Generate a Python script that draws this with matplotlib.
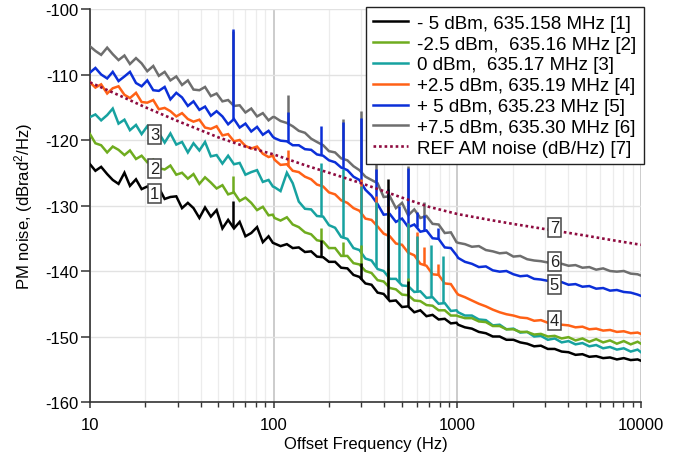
import numpy as np
import matplotlib
matplotlib.use("Agg")
import matplotlib.pyplot as plt

plt.rcParams["font.family"] = ["Liberation Sans", "DejaVu Sans"]
plt.rcParams["axes.unicode_minus"] = False
plt.rcParams["mathtext.default"] = "regular"

# ---- measured offset frequencies (Hz): three analyser spans ----
freq_hz = (
    [10.0, 10.7, 11.5, 12.4, 13.3, 14.3, 15.4, 16.5, 17.8, 19.1,
     20.5, 22.1, 23.7, 25.5, 27.4, 29.5, 31.7, 34.1, 36.6, 39.4,
     42.3, 45.5, 48.9, 52.6, 56.5, 60.8, 65.3, 70.2, 75.5, 81.2,
     87.3, 93.8, 99.0]
    + [101, 109, 118, 127, 137, 148, 160, 172, 186, 200,
       216, 233, 252, 272, 293, 316, 341, 368, 397, 429,
       463, 500, 540, 583, 629, 679, 733, 791, 854, 922, 990]
    + [1010, 1100, 1200, 1310, 1430, 1560, 1700, 1850, 2020, 2200,
       2400, 2620, 2850, 3110, 3390, 3700, 4030, 4400, 4800, 5230,
       5700, 6220, 6780, 7390, 8060, 8790, 9580, 10000]
)

# ---- PM noise (dBrad^2/Hz) for each drive level ----
pm_m5dbm = (
    [-123.7, -124.7, -124.1, -125.2, -126.1, -126.7, -125.0, -127.0, -126.0, -127.5,
     -127.1, -127.8, -127.3, -129.0, -128.7, -128.6, -130.4, -129.6, -130.4, -131.9,
     -130.3, -131.7, -130.7, -133.5, -132.2, -133.5, -132.5, -134.7, -134.2, -133.3,
     -135.6, -134.7, -135.7]
    + [-135.8, -136.2, -135.9, -136.5, -136.4, -137.1, -137.0, -137.8, -137.9, -138.6,
       -138.6, -139.5, -139.6, -140.6, -140.9, -141.9, -142.1, -143.3, -143.5, -144.6,
       -144.5, -145.5, -145.4, -146.3, -146.0, -146.9, -146.7, -147.4, -147.3, -148.0, -147.9]
    + [-148.2, -148.6, -148.8, -149.3, -149.5, -150.0, -150.0, -150.5, -150.5, -150.9,
       -151.1, -151.5, -151.4, -151.9, -151.9, -152.3, -152.4, -152.8, -152.7, -153.1,
       -153.0, -153.3, -153.2, -153.5, -153.3, -153.6, -153.5, -153.7]
)
pm_m2p5dbm = (
    [-119.1, -120.5, -120.8, -121.9, -121.0, -121.5, -122.3, -121.6, -122.9, -122.4,
     -123.4, -123.0, -124.3, -124.5, -123.9, -125.3, -125.0, -125.9, -125.2, -126.7,
     -125.7, -126.5, -127.4, -126.9, -128.3, -128.0, -129.3, -128.8, -129.6, -130.7,
     -130.2, -131.5, -131.4]
    + [-131.9, -132.3, -131.8, -132.9, -133.3, -134.1, -134.4, -135.3, -135.5, -136.5,
       -136.5, -137.7, -137.7, -138.8, -139.0, -140.0, -140.3, -141.4, -141.6, -142.6,
       -142.8, -143.6, -143.7, -144.5, -144.6, -145.2, -145.3, -146.0, -146.0, -146.8, -146.8]
    + [-146.9, -147.2, -147.2, -147.7, -147.8, -148.4, -148.4, -148.9, -148.9, -149.3,
       -149.3, -149.7, -149.6, -150.0, -149.9, -150.3, -150.1, -150.6, -150.3, -150.8,
       -150.4, -150.9, -150.6, -151.1, -150.7, -151.2, -150.8, -151.1]
)
pm_0dbm = (
    [-116.5, -116.1, -117.0, -116.2, -115.2, -117.5, -116.9, -118.5, -117.7, -119.1,
     -117.9, -119.4, -118.9, -120.4, -119.0, -120.7, -120.3, -121.9, -120.5, -121.6,
     -120.3, -122.5, -122.3, -123.6, -122.4, -123.7, -123.5, -125.3, -124.9, -124.6,
     -126.4, -126.1, -127.1]
    + [-127.2, -127.8, -125.0, -126.6, -129.4, -130.5, -130.6, -131.6, -131.7, -133.0,
       -133.4, -134.8, -135.1, -136.5, -136.8, -138.1, -138.4, -139.7, -140.0, -141.2,
       -141.2, -142.2, -142.3, -143.2, -143.1, -144.1, -144.0, -145.0, -144.9, -146.1, -146.0]
    + [-146.3, -146.8, -146.8, -147.4, -147.5, -148.3, -148.2, -148.9, -148.8, -149.4,
       -149.3, -150.0, -149.9, -150.5, -150.3, -150.9, -150.7, -151.2, -151.0, -151.5,
       -151.3, -151.8, -151.6, -152.0, -151.8, -152.3, -152.0, -152.4]
)
pm_p2p5dbm = (
    [-111.2, -112.0, -111.5, -112.9, -112.1, -111.8, -113.1, -113.6, -112.8, -114.2,
     -114.3, -113.9, -115.3, -115.1, -115.6, -116.4, -115.9, -116.8, -117.2, -116.9,
     -118.1, -118.3, -117.9, -119.3, -119.1, -120.2, -120.0, -120.9, -121.3, -121.0,
     -122.1, -122.6, -122.4]
    + [-123.0, -123.8, -123.7, -124.7, -124.9, -125.6, -126.0, -126.8, -127.1, -128.0,
       -128.3, -129.2, -129.6, -130.4, -130.8, -132.0, -132.2, -133.2, -134.3, -134.7,
       -135.8, -136.0, -137.2, -137.6, -138.9, -139.2, -140.5, -140.6, -141.9, -142.0, -143.3]
    + [-143.6, -144.0, -144.5, -145.0, -145.4, -145.9, -146.3, -146.6, -146.8, -147.1,
       -147.2, -147.6, -147.5, -147.9, -148.0, -148.2, -148.3, -148.6, -148.5, -148.9,
       -148.8, -149.1, -149.0, -149.3, -149.2, -149.5, -149.4, -149.6]
)
pm_p5dbm = (
    [-109.7, -109.0, -110.0, -110.6, -109.6, -111.0, -110.3, -109.6, -111.3, -111.8,
     -110.9, -112.4, -112.5, -111.9, -113.8, -112.8, -113.5, -114.8, -114.1, -115.4,
     -114.9, -116.3, -115.6, -116.4, -117.6, -116.8, -118.1, -117.5, -118.7, -118.0,
     -119.2, -118.6, -119.5]
    + [-119.7, -120.1, -120.2, -120.8, -120.8, -121.4, -121.5, -122.2, -122.4, -123.1,
       -123.4, -124.2, -124.6, -125.6, -126.1, -127.6, -128.5, -129.8, -131.4, -131.3,
       -132.5, -132.0, -133.3, -132.9, -134.0, -133.8, -135.0, -135.1, -136.4, -136.5, -137.6]
    + [-138.0, -138.6, -138.9, -139.4, -139.3, -139.9, -140.1, -140.0, -140.5, -140.8,
       -140.7, -141.2, -141.3, -141.5, -141.8, -141.7, -142.1, -142.0, -142.4, -142.3,
       -142.7, -142.6, -143.0, -142.9, -143.2, -143.3, -143.6, -143.8]
)
pm_p7p5dbm = (
    [-105.7, -106.4, -107.0, -105.9, -106.9, -107.8, -107.1, -108.4, -107.5, -108.3,
     -109.5, -108.7, -110.2, -109.6, -110.9, -110.3, -111.6, -110.9, -112.3, -112.4,
     -111.9, -113.3, -112.9, -114.1, -113.9, -114.8, -114.7, -115.8, -115.2, -116.4,
     -115.9, -117.0, -116.5]
    + [-116.5, -117.1, -117.4, -117.9, -118.6, -118.9, -119.8, -120.3, -120.8, -121.7,
       -121.9, -122.8, -123.1, -124.0, -124.6, -125.6, -126.1, -126.6, -128.7, -128.6,
       -130.4, -129.6, -131.5, -130.6, -131.9, -131.6, -132.8, -132.9, -134.2, -134.1, -135.6]
    + [-135.7, -135.9, -136.3, -136.2, -136.8, -137.0, -137.3, -137.2, -137.8, -137.7,
       -138.2, -138.4, -138.5, -138.7, -138.8, -138.9, -139.2, -139.1, -139.5, -139.4,
       -139.8, -139.6, -140.0, -140.1, -140.0, -140.4, -140.5, -140.7]
)

# ---- reference AM noise (dB/Hz) ----
ref_freq_hz = [10, 15, 20, 30, 50, 70, 100, 150, 200, 300, 500, 700,
               1000, 1500, 2000, 3000, 5000, 7000, 10000]
ref_am_db = [-111.2, -113.4, -115.0, -117.1, -119.6, -121.0, -122.2, -123.9,
             -125.0, -126.6, -128.8, -130.2, -131.3, -132.2, -132.8, -133.6,
             -134.6, -135.3, -136.0]

# ---- mains-harmonic spurs: peak level per trace (nan = no spur) ----
nan = float("nan")
spur_hz = [60, 120, 180, 240, 300, 360, 420, 480, 540, 600, 660, 720, 780, 840]
spur_m5dbm = [-129.3, nan, -135.2, nan, -138.8, nan, -126.0, nan, -141.5, nan, nan, nan, nan, nan]
spur_m2p5dbm = [-125.5, nan, -133.5, -135.5, -136.0, nan, -139.5, nan, -141.0, nan, nan, nan, nan, nan]
spur_0dbm = [nan, nan, -123.5, -124.5, -127.0, -129.5, -131.0, -132.0, -132.6, -134.6, nan, -136.1, nan, -137.7]
spur_p2p5dbm = [nan, -121.5, -124.8, -126.0, -126.0, -128.5, -130.0, nan, -132.6, -134.0, -136.4, nan, -139.0, nan]
spur_p5dbm = [-103.0, -115.8, -117.8, -117.2, -116.6, -124.4, -127.5, -130.0, -124.2, -131.0, -131.5, nan, -133.5, nan]
spur_p7p5dbm = [-103.4, -113.1, nan, -116.8, -115.6, -122.8, nan, nan, -123.9, nan, -129.5, nan, nan, nan]

legend_labels = [
    "- 5 dBm, 635.158 MHz [1]",
    "-2.5 dBm,  635.16 MHz [2]",
    "0 dBm,  635.17 MHz [3]",
    "+2.5 dBm, 635.19 MHz [4]",
    "+ 5 dBm, 635.23 MHz [5]",
    "+7.5 dBm, 635.30 MHz [6]",
    "REF AM noise (dB/Hz) [7]",
]
trace_colors = ["#000000", "#6FAC1F", "#17A2A0", "#FF6116", "#0B2FD8", "#6E6E6E"]
ref_color = "#8E0B3F"

traces = [pm_m5dbm, pm_m2p5dbm, pm_0dbm, pm_p2p5dbm, pm_p5dbm, pm_p7p5dbm]
spurs = [spur_m5dbm, spur_m2p5dbm, spur_0dbm, spur_p2p5dbm, spur_p5dbm, spur_p7p5dbm]
zorders = [8, 7, 6, 5, 4, 3]

fig = plt.figure(figsize=(6.8, 4.6), dpi=100)
ax = fig.add_axes([90 / 680, 1 - 403 / 460, (641 - 90) / 680, (403 - 10) / 460])

lf = np.log10(freq_hz)
handles = []
for vals, sp, col, z in zip(traces, spurs, trace_colors, zorders):
    h, = ax.plot(freq_hz, vals, color=col, lw=1.8, zorder=z, solid_joinstyle="miter")
    for f, peak in zip(spur_hz, sp):
        if np.isnan(peak):
            continue
        base = np.interp(np.log10(f), lf, vals)
        ax.plot([f, f], [base, peak], color=col, lw=1.8, zorder=z,
                solid_capstyle="butt")
    handles.append(h)

href, = ax.plot(ref_freq_hz, ref_am_db, color=ref_color, lw=1.9,
                linestyle=(0, (1, 1.1)), zorder=10)
handles.append(href)

ax.set_xscale("log")
ax.set_xlim(10, 10000)
ax.set_ylim(-160, -100)
ax.set_xticks([10, 100, 1000, 10000])
ax.set_xticklabels(["10", "100", "1000", "10000"])
ax.set_yticks(np.arange(-160, -99, 10))
ax.set_yticklabels([str(v) for v in range(-160, -99, 10)])

ax.grid(True, which="major", axis="y", color="#e2e2e2", lw=1.0, zorder=0)
ax.grid(True, which="major", axis="x", color="#c8c8c8", lw=1.3, zorder=0)
ax.grid(True, which="minor", axis="x", color="#ececec", lw=0.9, zorder=0)
ax.set_axisbelow(True)

for s in ["top", "right"]:
    ax.spines[s].set_visible(False)
for s in ["left", "bottom"]:
    ax.spines[s].set_color("#333333")
    ax.spines[s].set_linewidth(1.2)

ax.tick_params(axis="y", which="major", direction="out", length=6.5, width=1.1,
               color="#333333", labelsize=12, pad=2)
ax.tick_params(axis="x", which="major", direction="out", length=4.5, width=1.1,
               color="#333333", labelsize=12, pad=6)
ax.tick_params(axis="x", which="minor", direction="out", length=3.5, width=1.0,
               color="#333333")

ax.set_xlabel("Offset Frequency (Hz)", fontsize=12, labelpad=3)
ax.set_ylabel("PM noise, (dBrad$^2$/Hz)", fontsize=12, labelpad=7)

leg = ax.legend(handles, legend_labels, loc="upper right",
                bbox_to_anchor=(644 / 680, 1 - 8 / 460),
                bbox_transform=fig.transFigure, fontsize=13.5,
                frameon=True, fancybox=False, framealpha=1,
                edgecolor="#222222", borderpad=0.4, labelspacing=0.2,
                handlelength=1.85, handletextpad=0.5, borderaxespad=0)
leg.get_frame().set_linewidth(1.0)
leg.set_zorder(20)

box = dict(boxstyle="square,pad=0.12", fc="white", ec="#444444", lw=1.1)
for txt, f, v in [("3", 22.5, -119.2), ("2", 22.5, -124.4), ("1", 22.5, -128.1),
                  ("7", 3380, -133.3), ("6", 3380, -138.6), ("5", 3380, -142.1),
                  ("4", 3380, -147.6)]:
    ax.text(f, v, txt, fontsize=12, ha="center", va="center", bbox=box,
            zorder=15, color="#222222")

fig.savefig("out.png", dpi=100)
